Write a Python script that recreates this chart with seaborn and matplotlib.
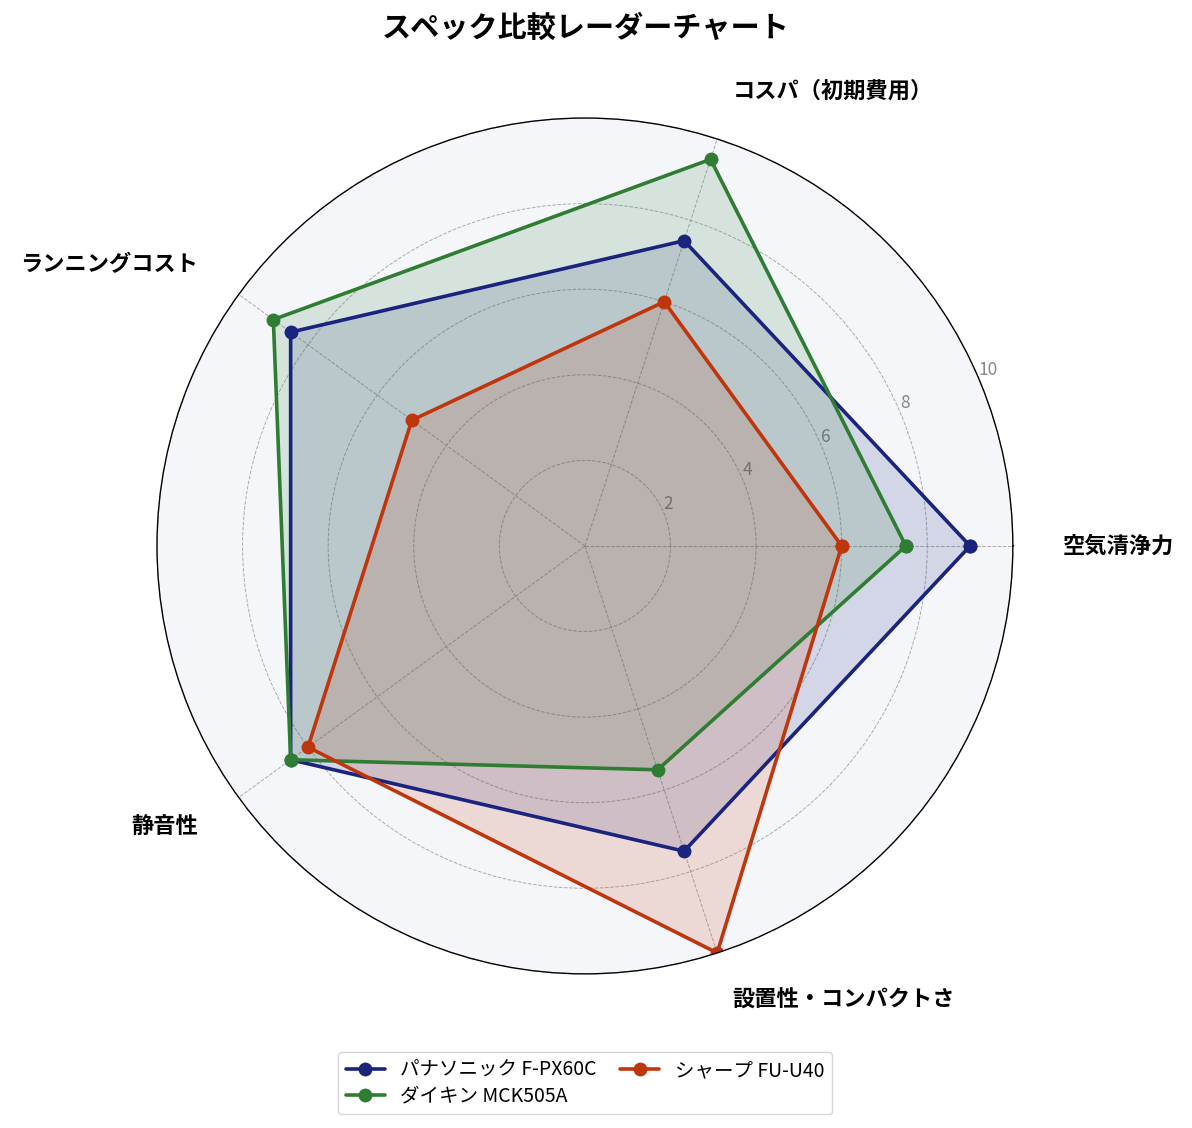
import numpy as np
import matplotlib
matplotlib.use("Agg")
import matplotlib.pyplot as plt
import seaborn as sns

# axes of the radar chart
categories = ["空気清浄力", "コスパ（初期費用）", "ランニングコスト", "静音性", "設置性・コンパクトさ"]

# scores per product (0-10)
panasonic = [9.0, 7.5, 8.5, 8.5, 7.5]
daikin = [7.5, 9.5, 9.0, 8.5, 5.5]
sharp = [6.0, 6.0, 5.0, 8.0, 10.0]

series_names = ["パナソニック F-PX60C", "ダイキン MCK505A", "シャープ FU-U40"]
series_colors = ["#1a237e", "#2e7d32", "#bf360c"]

r_ticks = [2, 4, 6, 8, 10]


def main():
    sns.set_style("white")
    plt.rcParams['font.family'] = ['Noto Sans CJK JP', 'DejaVu Sans']
    plt.rcParams['text.color'] = 'black'

    fig = plt.figure(figsize=(11.92, 11.28), dpi=100)
    ax = fig.add_axes([0.1317, 0.1365, 0.718, 0.759], projection="polar")
    ax.set_facecolor("#f4f6fa")

    n = len(categories)
    angles = np.linspace(0, 2 * np.pi, n, endpoint=False)
    closed_angles = np.append(angles, angles[0])

    all_values = [panasonic, daikin, sharp]
    for name, vals, color in zip(series_names, all_values, series_colors):
        closed = np.append(vals, vals[0])
        # estimator=None so the repeated first point closes the polygon
        sns.lineplot(x=closed_angles, y=closed, sort=False, estimator=None, ax=ax,
                     color=color, linewidth=2.6, marker="o", markersize=10,
                     markeredgewidth=0, label=name)
        ax.fill(closed_angles, closed, color=color, alpha=0.15)

    ax.set_ylim(0, 10)
    ax.set_yticks(r_ticks)
    ax.set_yticklabels([str(t) for t in r_ticks], color="#888888", fontsize=12.5)
    ax.set_rlabel_position(23)

    ax.set_xticks(angles)
    ax.set_xticklabels([])
    ax.grid(True, color="#999999", linestyle="--", linewidth=0.7, alpha=0.8)
    ax.spines["polar"].set_color("black")
    ax.spines["polar"].set_linewidth(1.0)

    # category labels placed just outside the outer ring
    for ang, cat in zip(angles, categories):
        ha = "left" if np.cos(ang) > 0.01 else "right"
        ax.text(ang, 11.17, cat, ha=ha, va="center", fontsize=16,
                fontweight="bold", color="black", clip_on=False)

    fig.text(0.491, 0.975, "スペック比較レーダーチャート", ha="center", va="center",
             fontsize=21, fontweight="bold", color="black")

    leg = ax.legend(loc="upper center", bbox_to_anchor=(0.5, -0.08), ncol=2,
                    fontsize=14, frameon=True, edgecolor="#cccccc",
                    handlelength=2.0, columnspacing=1.2, borderpad=0.4, labelspacing=0.25)
    for t in leg.get_texts():
        t.set_color("black")

    fig.savefig("out.png", dpi=100)


if __name__ == '__main__':
    main()
